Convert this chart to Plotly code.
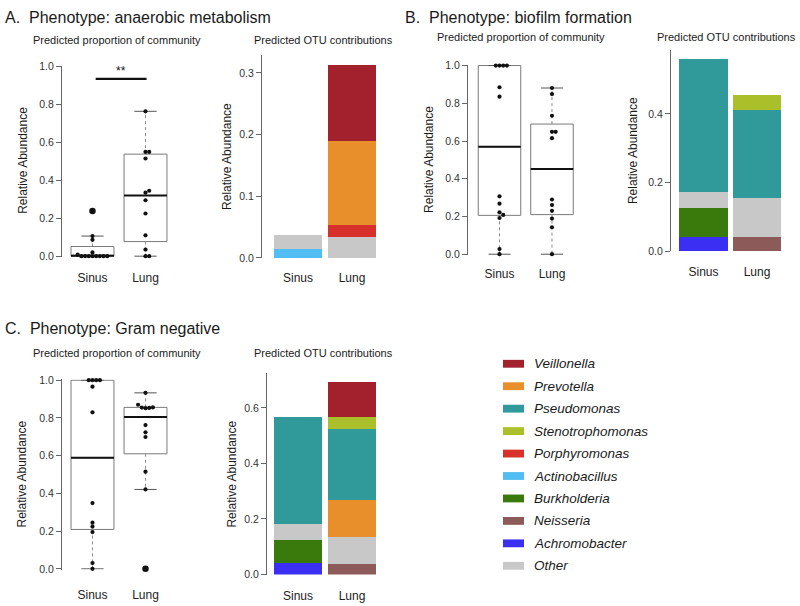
import plotly.graph_objects as go

W, H = 800, 606

groups = ["Sinus", "Lung"]

# ---------- Box-plot data (predicted proportion of community) ----------
A_sinus_pts = [0.238, 0.106, 0.086, 0.02, 0.008, 0, 0, 0, 0, 0, 0, 0, 0]
A_lung_pts = [0.764, 0.55, 0.55, 0.515, 0.345, 0.335, 0.295, 0.225, 0.11, 0.035, 0.0, 0.0]
A_q1 = [0.0, 0.077]
A_med = [0.002, 0.32]
A_q3 = [0.051, 0.538]
A_lo = [0.0, 0.0]
A_hi = [0.106, 0.764]
A_out = [[0.238], []]

B_sinus_pts = [1.0, 1.0, 1.0, 1.0, 0.885, 0.835, 0.307, 0.268, 0.222, 0.208, 0.192, 0.027, 0.0]
B_lung_pts = [0.881, 0.849, 0.734, 0.649, 0.649, 0.615, 0.29, 0.261, 0.23, 0.189, 0.143, 0.0]
B_q1 = [0.206, 0.21]
B_med = [0.569, 0.452]
B_q3 = [1.0, 0.69]
B_lo = [0.0, 0.0]
B_hi = [1.0, 0.881]
B_out = [[], []]

C_sinus_pts = [1.0, 1.0, 1.0, 1.0, 0.966, 0.83, 0.349, 0.245, 0.224, 0.195, 0.031, 0.0]
C_lung_pts = [0.933, 0.87, 0.856, 0.855, 0.853, 0.852, 0.762, 0.724, 0.699, 0.515, 0.421, 0.0]
C_q1 = [0.209, 0.61]
C_med = [0.589, 0.805]
C_q3 = [1.0, 0.856]
C_lo = [0.0, 0.421]
C_hi = [1.0, 0.933]
C_out = [[], [0.0]]

# ---------- Stacked OTU contributions ----------
stack_order = ["Achromobacter", "Neisseria", "Burkholderia", "Actinobacillus", "Other",
               "Porphyromonas", "Prevotella", "Pseudomonas", "Stenotrophomonas", "Veillonella"]
legend_order = ["Veillonella", "Prevotella", "Pseudomonas", "Stenotrophomonas", "Porphyromonas",
                "Actinobacillus", "Burkholderia", "Neisseria", "Achromobacter", "Other"]
genus_colors = {
    "Veillonella": "#A3212D",
    "Prevotella": "#E88F2B",
    "Pseudomonas": "#2F9A99",
    "Stenotrophomonas": "#AABF2A",
    "Porphyromonas": "#D8302A",
    "Actinobacillus": "#52BDF2",
    "Burkholderia": "#3A7A0C",
    "Neisseria": "#8C5A58",
    "Achromobacter": "#3A2FF3",
    "Other": "#C8C8C8",
}
A_otu_sinus = [0, 0, 0, 0.0143, 0.0234, 0, 0, 0, 0, 0]
A_otu_lung = [0, 0, 0, 0, 0.0345, 0.0195, 0.135, 0, 0, 0.124]
B_otu_sinus = [0.041, 0, 0.083, 0, 0.049, 0, 0, 0.387, 0, 0]
B_otu_lung = [0, 0.042, 0, 0, 0.111, 0, 0, 0.259, 0.044, 0]
C_otu_sinus = [0.042, 0, 0.083, 0, 0.059, 0, 0, 0.384, 0, 0]
C_otu_lung = [0, 0.041, 0, 0, 0.095, 0, 0.133, 0.258, 0.041, 0.126]

FONT = "Liberation Sans, Arial, sans-serif"
fig = go.Figure()


def swarm(values, d=3.7, ppu_y=195.0, ppu_x=53.0):
    """Beeswarm-style horizontal offsets (in x data units)."""
    order = sorted(range(len(values)), key=lambda i: values[i])
    placed = []
    res = [0.0] * len(values)
    cands = [0.0]
    for k in range(1, 12):
        cands += [k * d, -k * d]
    for i in order:
        yv = values[i] * ppu_y
        for c in cands:
            if all((c - px_) ** 2 + (yv - py_) ** 2 >= d * d * 0.98 for px_, py_ in placed):
                break
        placed.append((c, yv))
        res[i] = c / ppu_x
    return res


def add_box_panel(n, pts_list, q1, med, q3, lo, hi, outs, ppu_y, ppu_x):
    xa, ya = f"x{n}", f"y{n}"
    pos = list(range(len(groups)))
    fig.add_trace(go.Box(x=pos, q1=q1, median=med, q3=q3, lowerfence=q1, upperfence=q3,
                         width=0.81, whiskerwidth=0, fillcolor="white",
                         line=dict(color="#7a7a7a", width=1), boxpoints=False,
                         xaxis=xa, yaxis=ya, hoverinfo="skip"))
    wx, wy, cx, cy, mx, my = [], [], [], [], [], []
    cw = 0.21
    for p in pos:
        wx += [p, p, None, p, p, None]
        wy += [q1[p], lo[p], None, q3[p], hi[p], None]
        cx += [p - cw, p + cw, None, p - cw, p + cw, None]
        cy += [lo[p], lo[p], None, hi[p], hi[p], None]
        mx += [p - 0.405, p + 0.405, None]
        my += [med[p], med[p], None]
    fig.add_trace(go.Scatter(x=wx, y=wy, mode="lines", line=dict(color="#8a8a8a", width=1, dash="dot"),
                             xaxis=xa, yaxis=ya, cliponaxis=False, hoverinfo="skip"))
    fig.add_trace(go.Scatter(x=cx, y=cy, mode="lines", line=dict(color="#555555", width=1),
                             xaxis=xa, yaxis=ya, cliponaxis=False, hoverinfo="skip"))
    fig.add_trace(go.Scatter(x=mx, y=my, mode="lines", line=dict(color="#111111", width=2),
                             xaxis=xa, yaxis=ya, cliponaxis=False, hoverinfo="skip"))
    for p, pts in enumerate(pts_list):
        offs = swarm(pts, ppu_y=ppu_y, ppu_x=ppu_x)
        fig.add_trace(go.Scatter(x=[p + o for o in offs], y=pts, mode="markers",
                                 marker=dict(color="#111111", size=4.2),
                                 xaxis=xa, yaxis=ya, cliponaxis=False, hoverinfo="skip"))
        if outs[p]:
            fig.add_trace(go.Scatter(x=[p] * len(outs[p]), y=outs[p], mode="markers",
                                     marker=dict(color="#111111", size=6.5),
                                     xaxis=xa, yaxis=ya, cliponaxis=False, hoverinfo="skip"))


def add_bar_panel(n, sinus_vals, lung_vals, width):
    for gi, g in enumerate(stack_order):
        xs, ys = [], []
        for p, vals in enumerate([sinus_vals, lung_vals]):
            if vals[gi] > 0:
                xs.append(p)
                ys.append(vals[gi])
        if xs:
            fig.add_trace(go.Bar(x=xs, y=ys, width=width, marker=dict(color=genus_colors[g], line=dict(width=0)),
                                 xaxis=f"x{n}", yaxis=f"y{n}", name=g, hoverinfo="skip"))


add_box_panel(1, [A_sinus_pts, A_lung_pts], A_q1, A_med, A_q3, A_lo, A_hi, A_out, 195, 53)
add_bar_panel(2, A_otu_sinus, A_otu_lung, 0.89)
add_box_panel(3, [B_sinus_pts, B_lung_pts], B_q1, B_med, B_q3, B_lo, B_hi, B_out, 194, 52.5)
add_bar_panel(4, B_otu_sinus, B_otu_lung, 0.9)
add_box_panel(5, [C_sinus_pts, C_lung_pts], C_q1, C_med, C_q3, C_lo, C_hi, C_out, 194, 53)
add_bar_panel(6, C_otu_sinus, C_otu_lung, 0.89)

# significance bar in panel A
fig.add_trace(go.Scatter(x=[0.06, 1.02], y=[0.935, 0.935], mode="lines",
                         line=dict(color="#111111", width=2.2), xaxis="x1", yaxis="y1",
                         cliponaxis=False, hoverinfo="skip"))

# panel geometry: (x px left, x px right), (y px top, y px bottom), x range, y range, dtick, standoff
panels = {
    1: ((62, 180), (61, 256), [-0.575, 1.651], [-0.004, 1.004], 0.2, 12),
    2: ((262, 382), (50, 257), [-0.667, 1.556], [0, 0.329], 0.1, 11),
    3: ((468, 585), (60, 254), [-0.60, 1.629], [-0.004, 1.004], 0.2, 10),
    4: ((671, 790), (45, 250), [-0.607, 1.617], [0, 0.586], 0.2, 12),
    5: ((62, 180), (381, 575), [-0.575, 1.651], [-0.004, 1.004], 0.2, 16),
    6: ((267, 382), (374, 580), [-0.574, 1.556], [0, 0.727], 0.2, 12),
}
layout_axes = {}
for n, (xp, yp, xr, yr, dt, so) in panels.items():
    sfx = "" if n == 1 else str(n)
    layout_axes["xaxis" + sfx] = dict(
        domain=[xp[0] / W, xp[1] / W], range=xr, showline=False, showgrid=False, zeroline=False,
        tickmode="array", tickvals=[0, 1], ticktext=groups, ticks="", ticklabelstandoff=so,
        tickfont=dict(size=12, color="#222222", family=FONT), anchor="y" + sfx, fixedrange=True)
    layout_axes["yaxis" + sfx] = dict(
        domain=[1 - yp[1] / H, 1 - yp[0] / H], range=yr, showline=True, linecolor="#666666",
        linewidth=1, ticks="outside", ticklen=5, tickwidth=1, tickcolor="#666666",
        tick0=0, dtick=dt, tickformat=".1f", showgrid=False, zeroline=False,
        tickfont=dict(size=10.5, color="#333333", family=FONT), anchor="x" + sfx, fixedrange=True)

annotations = []


def text(x, y, s, size, **kw):
    d = dict(x=x / W, y=1 - y / H, xref="paper", yref="paper", text=s, showarrow=False,
             xanchor="left", yanchor="middle", font=dict(size=size, color="#1a1a1a", family=FONT))
    d.update(kw)
    annotations.append(d)


# panel titles
text(3, 12, "A.  Phenotype: anaerobic metabolism", 16)
text(403, 12, "B.  Phenotype: biofilm formation", 16)
text(3, 329, "C.  Phenotype: Gram negative", 16)
# sub titles
text(31, 35, "Predicted proportion of community", 11)
text(252, 35, "Predicted OTU contributions", 11)
text(435, 32, "Predicted proportion of community", 11)
text(655, 32, "Predicted OTU contributions", 11)
text(31, 354, "Predicted proportion of community", 11)
text(252, 354, "Predicted OTU contributions", 11)
# y axis titles
for xc, yc in [(23, 158), (227, 154), (429, 157), (633, 148), (22, 478), (232, 477)]:
    text(xc, yc, "Relative Abundance", 12, xanchor="center", textangle=-90)

# significance stars
annotations.append(dict(x=0.53, y=0.935, xref="x", yref="y", text="**", showarrow=False,
                        yanchor="bottom", yshift=-1, font=dict(size=12, color="#111111", family=FONT)))

# legend (manual)
shapes = []
row0, step = 365, 22.9
for i, g in enumerate(legend_order):
    yc = row0 + i * step
    shapes.append(dict(type="rect", xref="paper", yref="paper", x0=503 / W, x1=524 / W,
                       y0=1 - (yc + 4) / H, y1=1 - (yc - 4) / H, fillcolor=genus_colors[g],
                       line=dict(width=0)))
    text(532, yc, "<i>" + g + "</i>", 13.5)

fig.update_layout(
    width=W, height=H, margin=dict(l=0, r=0, t=0, b=0),
    paper_bgcolor="white", plot_bgcolor="white", showlegend=False,
    barmode="stack", bargap=0, annotations=annotations, shapes=shapes,
    font=dict(family=FONT), **layout_axes)

fig.write_html("out.html", config={"displayModeBar": False},
               post_script="document.body.style.margin='0px';")
